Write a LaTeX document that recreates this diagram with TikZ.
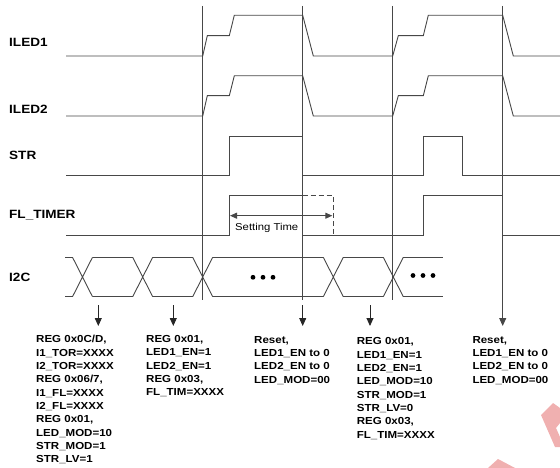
\documentclass[tikz,border=0pt]{standalone}
\usepackage{fontspec}
\setmainfont{Liberation Sans}[FakeStretch=1.13]
\usetikzlibrary{arrows.meta}
\definecolor{wmpink}{RGB}{240,176,176}
\begin{document}
\begin{tikzpicture}[x=1bp,y=-1bp,
  sig/.style={draw=black!72, line width=0.9bp},
  marker/.style={draw=black!72, line width=1bp},
  downarrow/.style={draw=black!85, line width=0.9bp, -{Triangle[length=8bp,width=7bp]}},
  signame/.style={anchor=base west, inner sep=0pt, font=\fontsize{12bp}{14bp}\selectfont\bfseries},
  regs/.style={anchor=north west, inner sep=0pt, align=left, font=\fontsize{10.2bp}{13.33bp}\selectfont\bfseries}]
\useasboundingbox (0,0) rectangle (560,468);
% signal names
\node[signame] (iled1) at (9,46.2) {ILED1};
\node[signame] (iled2) at (9,114) {ILED2};
\node[signame] (str) at (9,159.5) {STR};
\node[signame] (fltimer) at (9,219) {FL\_TIMER};
\node[signame] (i2c) at (9,281.7) {I2C};
% time markers
\draw[marker] (202.7,6) -- (202.7,300);
\draw[marker] (302.7,6) -- (302.7,300);
\draw[marker] (392.7,6) -- (392.7,300);
\coordinate (m4top) at (502.7,6);
\coordinate (m4end) at (502.7,326);
\draw[marker, -{Triangle[length=8bp,width=7bp]}] (m4top) -- (m4end);
% ILED1 / ILED2
\draw[sig] (66,56) -- (202.7,56) -- (207.3,35.7) -- (229.3,35.7) -- (234.3,15.3) -- (302.7,15.3) -- (313.3,56) -- (392.7,56) -- (398.3,35.7) -- (423.3,35.7) -- (428.3,15.3) -- (502.7,15.3) -- (513.3,56) -- (560,56);
\draw[sig] (66,116) -- (202.7,116) -- (207.3,95.7) -- (229.3,95.7) -- (234.3,75.8) -- (302.7,75.8) -- (313.3,116) -- (392.7,116) -- (398.3,95.7) -- (423.3,95.7) -- (428.3,75.8) -- (502.7,75.8) -- (513.3,116) -- (560,116);
% STR
\draw[sig] (66,175) -- (229.3,175) -- (229.3,136) -- (302.7,136) -- (302.7,175) -- (423.3,175) -- (423.3,136) -- (462.7,136) -- (462.7,175) -- (560,175);
% FL_TIMER
\draw[sig] (66,235.7) -- (229.3,235.7) -- (229.3,195.7) -- (302.7,195.7) -- (302.7,235.7) -- (423.3,235.7) -- (423.3,195.7) -- (502.7,195.7) -- (502.7,235.7) -- (560,235.7);
\draw[sig, dash pattern=on 5bp off 3bp] (302.7,195.7) -- (333.3,195.7) -- (333.3,235.7);
\coordinate (st1) at (230,215.7);
\coordinate (st2) at (332.3,215.7);
\draw[sig, {Triangle[length=7bp,width=6bp]}-{Triangle[length=7bp,width=6bp]}] (st1) -- (st2);
\node[anchor=base west, inner sep=0pt, font=\fontsize{10bp}{12bp}\selectfont] (settime) at (235,230.3) {Setting Time};
% I2C bus
\foreach \c in {82.5,142.7,202.7,333.3,393.3}
  \draw[sig] ({\c-10},257.3) -- ({\c+10},296.7) ({\c-10},296.7) -- ({\c+10},257.3);
\foreach \a/\b in {65/72.5,92.5/132.7,152.7/192.7,212.7/323.3,343.3/383.3,403.3/443.3}
  \draw[sig] (\a,257.3) -- (\b,257.3) (\a,296.7) -- (\b,296.7);
\foreach \d in {253,263,273} \fill[black] (\d,277.3) circle (2.4);
\foreach \d in {413,423,433} \fill[black] (\d,275.5) circle (2.4);
% register writes
\coordinate (a1) at (98.3,305);   \coordinate (a1e) at (98.3,326);
\coordinate (a2) at (173.3,305);  \coordinate (a2e) at (173.3,326);
\coordinate (a3) at (302.7,305);  \coordinate (a3e) at (302.7,326);
\coordinate (a4) at (370,305);    \coordinate (a4e) at (370,326);
\draw[downarrow] (a1) -- (a1e);
\draw[downarrow] (a2) -- (a2e);
\draw[downarrow] (a3) -- (a3e);
\draw[downarrow] (a4) -- (a4e);
\node[regs] (r1) at (36,335.3) {REG 0x0C/D,\\I1\_TOR=XXXX\\I2\_TOR=XXXX\\REG 0x06/7,\\I1\_FL=XXXX\\I2\_FL=XXXX\\REG 0x01,\\LED\_MOD=10\\STR\_MOD=1\\STR\_LV=1};
\node[regs] (r2) at (146,335.3) {REG 0x01,\\LED1\_EN=1\\LED2\_EN=1\\REG 0x03,\\FL\_TIM=XXXX};
\node[regs] (r3) at (254,335.8) {Reset,\\LED1\_EN to 0\\LED2\_EN to 0\\LED\_MOD=00};
\node[regs] (r4) at (356.7,337.6) {REG 0x01,\\LED1\_EN=1\\LED2\_EN=1\\LED\_MOD=10\\STR\_MOD=1\\STR\_LV=0\\REG 0x03,\\FL\_TIM=XXXX};
\node[regs] (r5) at (472.3,335.8) {Reset,\\LED1\_EN to 0\\LED2\_EN to 0\\LED\_MOD=00};
% watermark
\fill[wmpink] (541,415) -- (553,403) -- (560,408) -- (560,423) -- (556,428) -- (560,437) -- (560,447) -- (555,447) -- cycle;
\fill[wmpink] (488,468) -- (498,459) -- (515,468) -- cycle;
\end{tikzpicture}
\end{document}
